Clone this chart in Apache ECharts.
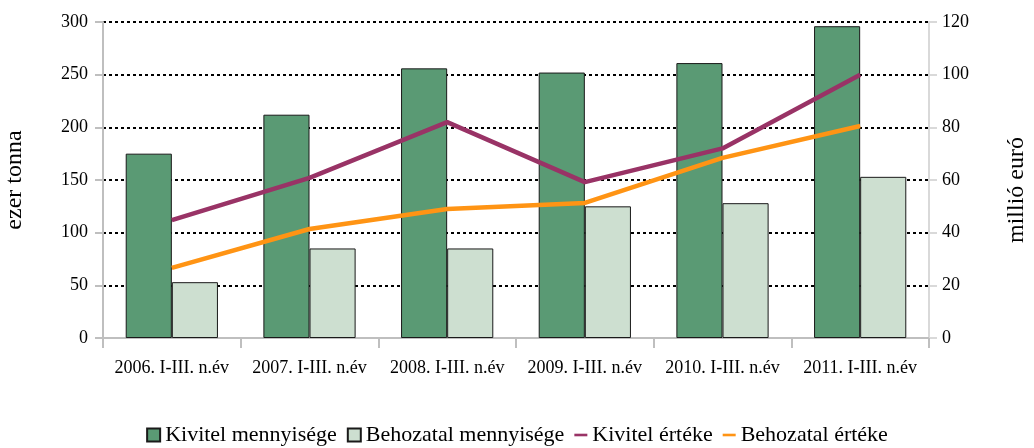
<!DOCTYPE html>
<html>
<head>
<meta charset="utf-8">
<script src="https://cdn.jsdelivr.net/npm/echarts@6/dist/echarts.min.js"></script>
<style>
  body { margin: 0; background: #fff; }
</style>
</head>
<body>
<div id="chart" style="width: 1034px; height: 448px;"></div>
<script>
// adatok
const years = ['2006. I-III. n.év', '2007. I-III. n.év', '2008. I-III. n.év', '2009. I-III. n.év', '2010. I-III. n.év', '2011. I-III. n.év']
const kivitelMenny = [175, 212, 256, 252, 261, 296]
const behozatalMenny = [53, 85, 85, 125, 128, 153]
const kivitelErtek = [44.8, 60.8, 82, 59.2, 72, 100]
const behozatalErtek = [26.6, 41.4, 49, 51.3, 68.4, 80.5]

const font = '"Liberation Serif", "Times New Roman", serif'
const gray = '#bfbfbf'

let myChart = echarts.init(document.getElementById('chart'))
myChart.setOption({
  animation: false,
  textStyle: { fontFamily: font },
  grid: { left: 103, right: 105, top: 22, bottom: 110, containLabel: false, outerBoundsMode: 'none' },
  legend: {
    top: 419,
    left: 'center',
    itemGap: 10,
    itemWidth: 13,
    itemHeight: 13,
    textStyle: { fontFamily: font, fontSize: 22, color: '#000' },
    data: [
      { name: 'Kivitel mennyisége', icon: 'rect' },
      { name: 'Behozatal mennyisége', icon: 'rect' },
      { name: 'Kivitel értéke', icon: 'path://M0,0H20V4H0Z' },
      { name: 'Behozatal értéke', icon: 'path://M0,0H20V4H0Z' }
    ]
  },
  xAxis: {
    type: 'category',
    data: years,
    axisLine: { lineStyle: { color: gray, width: 2 } },
    axisTick: { show: true, length: 10, lineStyle: { color: gray, width: 2 } },
    axisLabel: { color: '#000', fontFamily: font, fontSize: 18, margin: 21, interval: 0, hideOverlap: false }
  },
  yAxis: [
    {
      type: 'value',
      name: 'ezer tonna',
      nameLocation: 'middle',
      nameRotate: 90,
      nameGap: 76,
      nameTextStyle: { fontFamily: font, fontSize: 24, color: '#000' },
      min: 0,
      max: 300,
      interval: 50,
      axisLine: { show: true, lineStyle: { color: gray, width: 2 } },
      axisTick: { show: true, length: 8, lineStyle: { color: gray, width: 2 } },
      axisLabel: { color: '#000', fontFamily: font, fontSize: 18, margin: 15 },
      splitLine: { lineStyle: { color: '#000', width: 2, type: [3, 3] } }
    },
    {
      type: 'value',
      name: 'millió euró',
      nameLocation: 'middle',
      nameRotate: 90,
      nameGap: 76,
      nameTextStyle: { fontFamily: font, fontSize: 24, color: '#000', padding: [0, 20, 0, 0] },
      min: 0,
      max: 120,
      interval: 20,
      axisLine: { show: true, lineStyle: { color: '#d9d9d9', width: 2 } },
      axisTick: { show: true, length: 8, lineStyle: { color: '#d9d9d9', width: 2 } },
      axisLabel: { color: '#000', fontFamily: font, fontSize: 18, margin: 13 },
      splitLine: { show: false }
    }
  ],
  series: [
    {
      name: 'Kivitel mennyisége',
      type: 'bar',
      data: kivitelMenny,
      barGap: 0,
      barCategoryGap: '33%',
      itemStyle: { color: '#5a9a74', borderColor: '#1a1a1a', borderWidth: 1 }
    },
    {
      name: 'Behozatal mennyisége',
      type: 'bar',
      data: behozatalMenny,
      itemStyle: { color: '#cddfd0', borderColor: '#1a1a1a', borderWidth: 1 }
    },
    {
      name: 'Kivitel értéke',
      type: 'line',
      yAxisIndex: 1,
      data: kivitelErtek,
      symbol: 'none',
      itemStyle: { color: '#993366' },
      lineStyle: { color: '#993366', width: 4.5 }
    },
    {
      name: 'Behozatal értéke',
      type: 'line',
      yAxisIndex: 1,
      data: behozatalErtek,
      symbol: 'none',
      itemStyle: { color: '#ff9414' },
      lineStyle: { color: '#ff9414', width: 4.5 }
    }
  ]
})
</script>
</body>
</html>
